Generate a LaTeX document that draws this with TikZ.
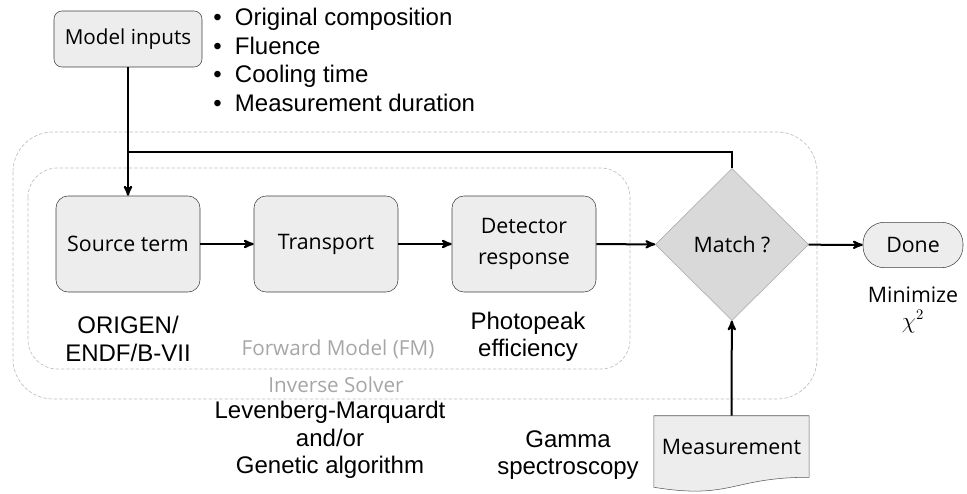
\documentclass[tikz,border=0pt]{standalone}
\usepackage{fontspec}
\setmainfont{Liberation Sans}
\newfontfamily\boxfont{Open Sans}
\usetikzlibrary{shapes.geometric}
\usetikzlibrary{positioning}
\usetikzlibrary{arrows}
\usetikzlibrary{backgrounds}
\definecolor{framegray}{HTML}{BFBFBF}
\definecolor{labelgray}{HTML}{A6A6A6}
\definecolor{boxfill}{HTML}{EDEDED}
\definecolor{matchfill}{HTML}{D9D9D9}
\tikzset{node distance=148.5pt, % Centre to centre of the solver boxes
process/.style={ % Boxes of the forward model
draw=black!75,
fill=boxfill,
rounded corners=9pt,
minimum width=108pt,
minimum height=72pt,
align=center,
font=\boxfont\fontsize{16}{23}\selectfont},
inputbox/.style={process,
rounded corners=6pt,
minimum width=111pt,
minimum height=42pt,
font=\boxfont\fontsize{15.5}{19}\selectfont},
decision/.style={diamond,
draw=gray!70,
fill=matchfill,
minimum width=115pt,
minimum height=114pt,
inner sep=0pt,
font=\boxfont\fontsize{16}{19}\selectfont},
terminal/.style={process,
rounded corners=16pt,
minimum width=75pt,
minimum height=34pt},
document/.style={ % Shape is drawn on the background layer
minimum width=116pt,
minimum height=45.75pt,
inner sep=0pt,
font=\boxfont\fontsize{16}{19}\selectfont},
note/.style={align=center,
font=\fontsize{18}{20.5}\selectfont},
frame/.style={draw=framegray,
dash pattern=on 2.5pt off 1.5pt,
line width=0.5pt},
framelabel/.style={text=labelgray,
font=\boxfont\fontsize{15.5}{18}\selectfont},
thickline/.style={draw, line width=1.5pt},
every edge/.style={ % Sets the properties for each connector
draw,
->,>=stealth',
line width=1.5pt}}

\begin{document}
\begin{tikzpicture}[x=0.75pt,y=-0.75pt]
\useasboundingbox (0,0) rectangle (967,493);

% dashed frames
\draw[frame, rounded corners=30pt] (13,132) rectangle (817,399);
\draw[frame, rounded corners=22pt] (28,168) rectangle (630,369);
\node[framelabel] (fm) at (338,349) {Forward Model (FM)};
\node[framelabel] (solver) at (336,385) {Inverse Solver};

\node[process] (src) at (128,244) {Source term};
\node[process, right of=src] (trn) {Transport};
\node[process, right of=trn] (det) {Detector\\response};
\node[decision] (match) at (732,244.5) {Match ?};
\node[terminal] (done) at (913,245) {Done};
\node[inputbox] (inputs) at (128,39) {Model inputs};
\node[document] (meas) at (731.5,446.5) {Measurement};
\coordinate (fb) at (128,152);

\node[anchor=west, align=left, inner sep=0pt,
  font=\fontsize{18}{21.5}\selectfont] (list) at (213,60)
  {\textbullet\hspace{10pt}Original composition\\
   \textbullet\hspace{10pt}Fluence\\
   \textbullet\hspace{10pt}Cooling time\\
   \textbullet\hspace{10pt}Measurement duration};

\node[note] (origen) at (128,339) {ORIGEN/\\ENDF/B-VII};
\node[note] (peak) at (528,337) {Photopeak\\efficiency};
\node[note] (lm) at (330,440) {Levenberg-Marquardt\\and/or\\Genetic algorithm};
\node[note] (gamma) at (568,455) {Gamma\\spectroscopy};
\node[note, font=\boxfont\fontsize{16}{19}\selectfont] (minchi) at (913,310) {Minimize\\$\chi^2$};

\begin{pgfonlayer}{background}
\draw[draw=black!65, fill=boxfill] (meas.north west) -- (meas.north east) -- (meas.south east)
  .. controls (meas.south) and ([yshift=-17pt]meas.south) .. ([yshift=-7.5pt]meas.south west) -- cycle;
\end{pgfonlayer}

\draw (inputs) edge (src);
\draw (src) edge (trn);
\draw (trn) edge (det);
\draw (det) edge (match);
\draw (match) edge (done);
\draw (meas) edge (match);
\draw[thickline] (match.north) |- (fb);
\end{tikzpicture}
\end{document}
